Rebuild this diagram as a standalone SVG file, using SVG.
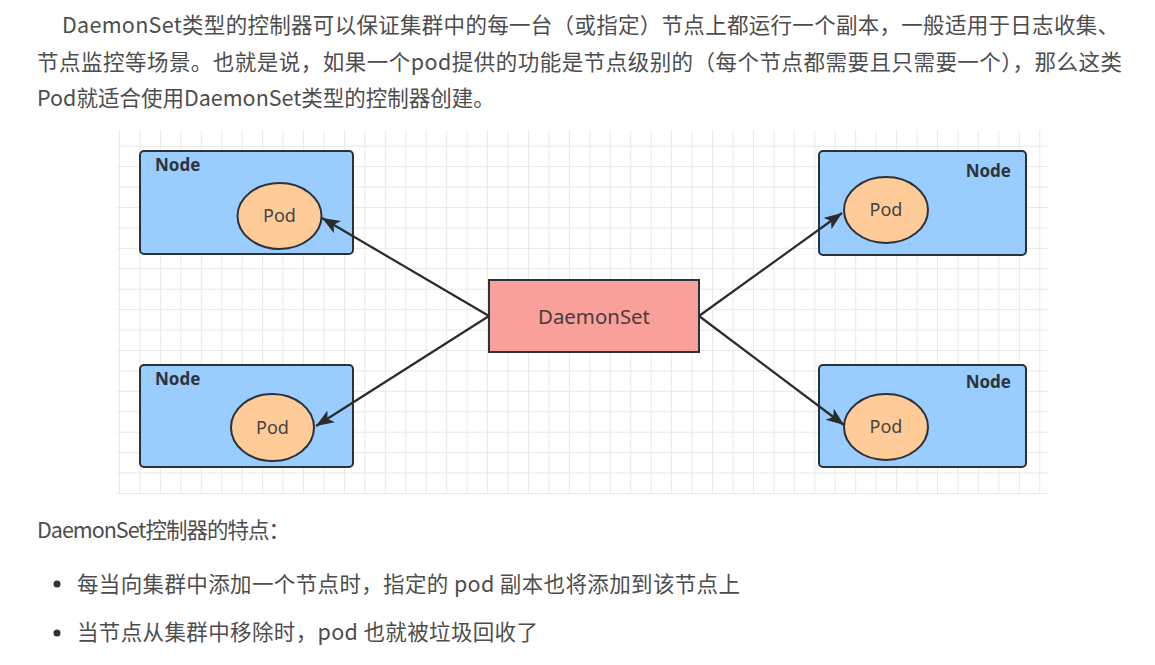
<svg xmlns="http://www.w3.org/2000/svg" width="1155" height="665" viewBox="0 0 1155 665">
<style>
.para{font-family:"Noto Sans CJK SC","Noto Sans",sans-serif;font-size:21.5px;fill:#4d4d4d}
.node{fill:#99ccff;stroke:#2b3138;stroke-width:2}
.pod{fill:#ffcc99;stroke:#2b3138;stroke-width:2}
.ds{fill:#f9a09a;stroke:#2b3138;stroke-width:2}
.nl{font-family:"Noto Sans","Liberation Sans",sans-serif;font-size:17px;font-weight:bold;fill:#2e3338}
.pl{font-family:"Noto Sans","Liberation Sans",sans-serif;font-size:18px;fill:#444;text-anchor:middle}
.dl{font-family:"Noto Sans","Liberation Sans",sans-serif;font-size:20px;fill:#4a3a38;text-anchor:middle}
.conn{stroke:#2b2b2b;stroke-width:2.2;fill:none;marker-end:url(#arr)}
</style>
<defs>
<pattern id="grid" patternUnits="userSpaceOnUse" x="119" y="145.7" width="20.45" height="20.43">
<path d="M0 0.5 H20.45 M0.5 0 V20.43" stroke="#e8e8e8" stroke-width="1" fill="none"/>
</pattern>
<marker id="arr" markerUnits="userSpaceOnUse" markerWidth="20" markerHeight="16" refX="18" refY="7" orient="auto">
<path d="M0 0 L18 7 L0 14 L4.5 7 Z" fill="#2b2b2b"/>
</marker>
</defs>
<rect width="1155" height="665" fill="#ffffff"/>
<g id="text-top">
<text class="para" x="62" y="33" textLength="1057" lengthAdjust="spacing">DaemonSet类型的控制器可以保证集群中的每一台（或指定）节点上都运行一个副本，一般适用于日志收集、</text>
<text class="para" x="37" y="70" textLength="1085" lengthAdjust="spacing">节点监控等场景。也就是说，如果一个pod提供的功能是节点级别的（每个节点都需要且只需要一个），那么这类</text>
<text class="para" x="37" y="106">Pod就适合使用DaemonSet类型的控制器创建。</text>
</g>
<rect x="117" y="130" width="931" height="364" fill="url(#grid)"/>
<g id="node-tl">
<rect class="node" x="140" y="151" width="213" height="103" rx="4"/>
<text class="nl" x="155" y="171">Node</text>
<ellipse class="pod" cx="279.5" cy="216" rx="42" ry="33"/>
<text class="pl" x="279.5" y="222">Pod</text>
</g>
<g id="node-bl">
<rect class="node" x="140" y="365" width="213" height="102" rx="4"/>
<text class="nl" x="155" y="385">Node</text>
<ellipse class="pod" cx="272.5" cy="427.5" rx="41.5" ry="33.5"/>
<text class="pl" x="272.5" y="433.5">Pod</text>
</g>
<g id="node-tr">
<rect class="node" x="819" y="151" width="207" height="104" rx="4"/>
<text class="nl" x="1011" y="177" text-anchor="end">Node</text>
<ellipse class="pod" cx="886" cy="210" rx="42" ry="33"/>
<text class="pl" x="886" y="216">Pod</text>
</g>
<g id="node-br">
<rect class="node" x="819" y="365" width="207" height="102" rx="4"/>
<text class="nl" x="1011" y="388" text-anchor="end">Node</text>
<ellipse class="pod" cx="886" cy="427" rx="42" ry="33"/>
<text class="pl" x="886" y="433">Pod</text>
</g>
<g id="daemonset">
<rect class="ds" x="489" y="280" width="210" height="72"/>
<text class="dl" x="594" y="324" textLength="112" lengthAdjust="spacingAndGlyphs">DaemonSet</text>
</g>
<g id="connectors">
<line class="conn" x1="489" y1="316" x2="322" y2="218"/>
<line class="conn" x1="489" y1="316" x2="316" y2="426"/>
<line class="conn" x1="699" y1="316" x2="842" y2="213"/>
<line class="conn" x1="699" y1="316" x2="844" y2="425"/>
</g>
<g id="text-bottom">
<text class="para" x="37" y="538" textLength="253" lengthAdjust="spacing">DaemonSet控制器的特点：</text>
<circle cx="57" cy="584" r="3.5" fill="#333"/>
<text class="para" x="77" y="592" textLength="663" lengthAdjust="spacing">每当向集群中添加一个节点时，指定的 pod 副本也将添加到该节点上</text>
<circle cx="57" cy="633" r="3.5" fill="#333"/>
<text class="para" x="77" y="640" textLength="461" lengthAdjust="spacing">当节点从集群中移除时，pod 也就被垃圾回收了</text>
</g>
</svg>
